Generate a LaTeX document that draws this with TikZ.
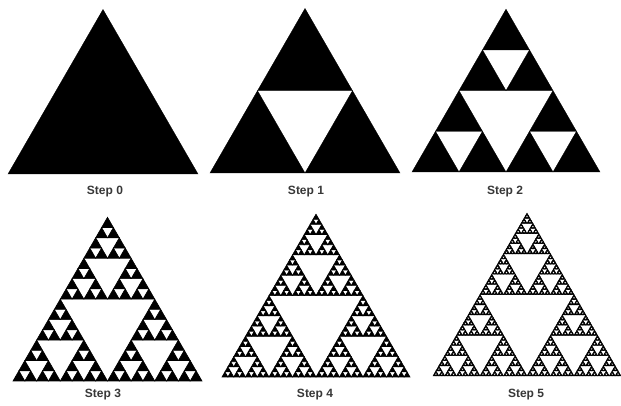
\documentclass[tikz,border=0pt]{standalone}
\usepackage{fontspec}
\setmainfont{Liberation Sans}
\tikzset{
  tri/.style={fill=black, draw=black, line width=\sptriwidth, line join=miter},
  steplabel/.style={font=\bfseries\fontsize{12}{14}\selectfont, text=black!78, inner sep=0pt}
}
\def\sptriwidth{0.3pt}
\makeatletter
\def\sierp#1#2#3#4{%
  \ifnum#1=0\relax
    \path[tri] (#2,#3) -- ++(#4,0) -- ++(-0.5*#4,0.866025*#4) -- cycle;%
  \else
    \begingroup
    \pgfmathtruncatemacro\sp@d{#1-1}%
    \pgfmathsetmacro\sp@h{#4/2}%
    \pgfmathsetmacro\sp@xa{#2+\sp@h}%
    \pgfmathsetmacro\sp@xb{#2+\sp@h/2}%
    \pgfmathsetmacro\sp@yb{#3+0.866025*\sp@h}%
    \edef\sp@next{\noexpand\sierp{\sp@d}{#2}{#3}{\sp@h}\noexpand\sierp{\sp@d}{\sp@xa}{#3}{\sp@h}\noexpand\sierp{\sp@d}{\sp@xb}{\sp@yb}{\sp@h}}%
    \sp@next
    \endgroup
  \fi}
\makeatother
\begin{document}
\begin{tikzpicture}[x=1pt,y=1pt]
\useasboundingbox (0,0) rectangle (621,406);
\fill[white] (0,0) rectangle (621,406);
\sierp{0}{8}{232}{190}
\sierp{1}{210}{233}{190}
\sierp{2}{412}{234}{188}
\def\sptriwidth{0.6pt}
\sierp{4}{13}{25}{189}
\sierp{5}{222}{29}{188}
\def\sptriwidth{0.5pt}
\sierp{6}{433}{30}{188}
\node[steplabel] (l0) at (105,214) {Step 0};
\node[steplabel] (l1) at (306,214) {Step 1};
\node[steplabel] (l2) at (505,214) {Step 2};
\node[steplabel] (l3) at (103,11) {Step 3};
\node[steplabel] (l4) at (315,11) {Step 4};
\node[steplabel] (l5) at (526,11) {Step 5};
\end{tikzpicture}
\end{document}
